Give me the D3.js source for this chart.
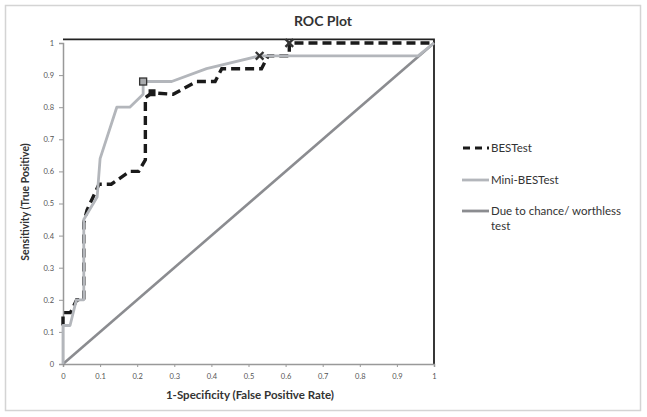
<!DOCTYPE html>
<html>
<head>
<meta charset="utf-8">
<script src="https://cdn.jsdelivr.net/npm/d3@7"></script>
<style>
  html, body { margin: 0; padding: 0; background: #fff; }
  svg { display: block; font-family: Lato, "Open Sans", sans-serif; }
</style>
</head>
<body>
<script>
// ---------- data ----------
const bestFpr = [0, 0, 0.02, 0.037, 0.056, 0.056, 0.065, 0.097, 0.13, 0.18, 0.204, 0.222, 0.222, 0.24, 0.297, 0.36, 0.41, 0.428, 0.535, 0.553, 0.61, 0.61, 1];
const bestTpr = [0.12, 0.16, 0.16, 0.2, 0.2, 0.44, 0.48, 0.56, 0.56, 0.6, 0.6, 0.636, 0.83, 0.845, 0.84, 0.88, 0.88, 0.92, 0.92, 0.96, 0.96, 1, 1];

const miniFpr = [0, 0, 0.019, 0.036, 0.056, 0.056, 0.092, 0.1, 0.145, 0.18, 0.216, 0.216, 0.293, 0.387, 0.53, 0.957, 1];
const miniTpr = [0, 0.12, 0.12, 0.2, 0.2, 0.45, 0.52, 0.64, 0.8, 0.8, 0.84, 0.88, 0.88, 0.92, 0.96, 0.96, 1];

const chanceFpr = [0, 1];
const chanceTpr = [0, 1];

// cut-point markers
const squareOpen = [[0.216, 0.88]];
const squareFilled = [[0.24, 0.845]];
const crossMarks = [[0.53, 0.96], [0.61, 1]];

const xTicks = [0, 0.1, 0.2, 0.3, 0.4, 0.5, 0.6, 0.7, 0.8, 0.9, 1];
const yTicks = [0, 0.1, 0.2, 0.3, 0.4, 0.5, 0.6, 0.7, 0.8, 0.9, 1];
const xTickLabels = ["0", "0.1", "0.2", "0.3", "0.4", "0.5", "0.6", "0.7", "0.8", "0.9", "1"];
const yTickLabels = ["0", "0.1", "0.2", "0.3", "0.4", "0.5", "0.6", "0.7", "0.8", "0.9", "1"];

const legendLabels = ["BESTest", "Mini-BESTest", "Due to chance/ worthless|test"];

const title = "ROC Plot";
const xTitle = "1-Specificity (False Positive Rate)";
const yTitle = "Sensitivity (True Positive)";

// ---------- layout ----------
const W = 647, H = 417;
const x = d3.scaleLinear().domain([0, 1]).range([63, 434]);
const y = d3.scaleLinear().domain([0, 1]).range([364, 43]);

const svg = d3.select("body").append("svg").attr("width", W).attr("height", H);

// outer border
svg.append("rect").attr("x", 5.5).attr("y", 5.5).attr("width", 635).attr("height", 405)
  .attr("fill", "#fff").attr("stroke", "#d4d4d4").attr("stroke-width", 1.5);

// title
svg.append("text").attr("x", 323).attr("y", 26).attr("text-anchor", "middle")
  .attr("font-size", 14).attr("font-weight", "bold").attr("fill", "#333").text(title);

// plot frame: top & right black
const topY = y(1.011);
svg.append("path")
  .attr("d", `M${x(0)},${topY}H${x(1)}V${y(0)}`)
  .attr("fill", "none").attr("stroke", "#222").attr("stroke-width", 1.8);

// axes
const xAxis = d3.axisBottom(x).tickValues(xTicks).tickSize(3)
  .tickFormat((d, i) => xTickLabels[i]);
const yAxis = d3.axisLeft(y).tickValues(yTicks).tickSize(4)
  .tickFormat((d, i) => yTickLabels[i]);

const gx = svg.append("g").attr("transform", `translate(0,${y(0)})`).call(xAxis);
const gy = svg.append("g").attr("transform", `translate(${x(0)},0)`).call(yAxis);
[gx, gy].forEach(g => {
  g.select(".domain").attr("stroke", "#999").attr("stroke-width", 1.5);
  g.selectAll(".tick line").attr("stroke", "#999");
  g.selectAll(".tick text").attr("fill", "#555").attr("font-size", 7.5)
    .attr("font-family", "Lato, 'Open Sans', sans-serif");
});
gx.selectAll(".tick text").attr("dy", "0.71em").attr("y", 10);
gy.selectAll(".tick text").attr("x", -9);

// axis titles
svg.append("text").attr("x", 250).attr("y", 399).attr("text-anchor", "middle")
  .attr("font-size", 11.5).attr("font-weight", "bold").attr("fill", "#333").text(xTitle);
svg.append("text").attr("transform", "translate(29,202) rotate(-90)").attr("text-anchor", "middle")
  .attr("font-size", 10.5).attr("font-weight", "bold").attr("fill", "#333").text(yTitle);

// lines
const line = d3.line().x(d => x(d[0])).y(d => y(d[1]));
const chance = chanceFpr.map((v, i) => [v, chanceTpr[i]]);
const best = bestFpr.map((v, i) => [v, bestTpr[i]]);
const mini = miniFpr.map((v, i) => [v, miniTpr[i]]);

svg.append("path").datum(chance).attr("d", line)
  .attr("fill", "none").attr("stroke", "#8b8c90").attr("stroke-width", 2.6);

svg.append("path").datum(best).attr("d", line)
  .attr("fill", "none").attr("stroke", "#1a1a1a").attr("stroke-width", 3.4)
  .attr("stroke-dasharray", "9,5");

svg.append("path").datum(mini).attr("d", line)
  .attr("fill", "none").attr("stroke", "#b3b6bb").attr("stroke-width", 2.8)
  .attr("stroke-linejoin", "round");

// markers
svg.selectAll(".sqo").data(squareOpen).enter().append("rect")
  .attr("x", d => x(d[0]) - 3.5).attr("y", d => y(d[1]) - 3.5)
  .attr("width", 7).attr("height", 7)
  .attr("fill", "#a9abae").attr("stroke", "#333").attr("stroke-width", 1.3);

svg.selectAll(".sqf").data(squareFilled).enter().append("rect")
  .attr("x", d => x(d[0]) - 3.5).attr("y", d => y(d[1]) - 3.5)
  .attr("width", 7).attr("height", 7).attr("fill", "#1a1a1a");

const cross = d3.symbol().type(d3.symbolX).size(40);
svg.selectAll(".cx").data(crossMarks).enter().append("path")
  .attr("transform", d => `translate(${x(d[0])},${y(d[1])})`)
  .attr("d", cross).attr("fill", "none").attr("stroke", "#333").attr("stroke-width", 2.4);

// legend
const lg = svg.append("g");
const legY = [148, 180, 211];
const legStyles = [
  { stroke: "#1a1a1a", dash: "7,5", w: 3.2 },
  { stroke: "#b3b6bb", dash: null, w: 2.8 },
  { stroke: "#8b8c90", dash: null, w: 2.8 }
];
legendLabels.forEach((lab, i) => {
  const s = legStyles[i];
  const l = lg.append("line").attr("x1", 462).attr("x2", 489)
    .attr("y1", legY[i]).attr("y2", legY[i])
    .attr("stroke", s.stroke).attr("stroke-width", s.w);
  if (s.dash) l.attr("stroke-dasharray", s.dash).attr("stroke-dashoffset", -1);
  const parts = lab.split("|");
  const t = lg.append("text").attr("x", 491).attr("y", legY[i] + 4)
    .attr("font-size", 11.5).attr("fill", "#333");
  parts.forEach((p, j) => {
    t.append("tspan").attr("x", 491).attr("dy", j === 0 ? 0 : 15).text(p);
  });
});
</script>
</body>
</html>
